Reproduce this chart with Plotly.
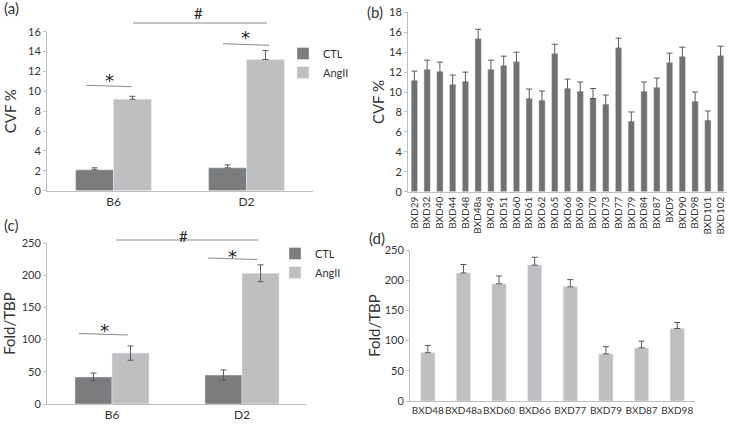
import plotly.graph_objects as go

# ---------------- data ----------------
groups = ["B6", "D2"]
cvf_ctl = [2.1, 2.3]
cvf_ctl_err = [0.2, 0.3]
cvf_ang = [9.2, 13.2]
cvf_ang_err = [0.3, 0.9]

strains_b = ["BXD29", "BXD32", "BXD40", "BXD44", "BXD48", "BXD48a", "BXD49", "BXD51",
             "BXD60", "BXD61", "BXD62", "BXD65", "BXD66", "BXD69", "BXD70", "BXD73",
             "BXD77", "BXD79", "BXD84", "BXD87", "BXD9", "BXD90", "BXD98", "BXD101", "BXD102"]
cvf_b = [11.1, 12.2, 12.0, 10.7, 11.0, 15.3, 12.2, 12.6, 13.0, 9.3, 9.1, 13.8, 10.3, 10.0,
         9.35, 8.7, 14.4, 7.0, 10.0, 10.4, 12.9, 13.5, 9.0, 7.1, 13.6]
cvf_b_err = [1.0] * 25

fold_ctl = [42, 45]
fold_ctl_err = [6, 8]
fold_ang = [79, 203]
fold_ang_err = [11, 13]

strains_d = ["BXD48", "BXD48a", "BXD60", "BXD66", "BXD77", "BXD79", "BXD87", "BXD98"]
fold_d = [80, 212, 194, 225, 189, 78, 88, 120]
fold_d_err = [12, 14, 13, 13, 12, 12, 11, 10]

W, H = 729, 426
FONT = "Lato, 'Open Sans', sans-serif"
TXT = "#333333"
DARK = "#7b7c7e"
LIGHT = "#bebfc1"
BDARK = "#717171"
AX = "#bfbfbf"
ERR = "#595959"

def px(x):
    return x / W

def py(y):
    return 1 - y / H

fig = go.Figure()

# (a)
fig.add_trace(go.Bar(x=groups, y=cvf_ctl, name="CTL", marker_color=DARK,
                     error_y=dict(type="data", array=cvf_ctl_err, arrayminus=[0, 0], symmetric=False,
                                  color=ERR, thickness=1, width=3),
                     xaxis="x", yaxis="y", legend="legend"))
fig.add_trace(go.Bar(x=groups, y=cvf_ang, name="AngII", marker_color=LIGHT,
                     error_y=dict(type="data", array=cvf_ang_err, arrayminus=[0, 0], symmetric=False,
                                  color=ERR, thickness=1, width=3),
                     xaxis="x", yaxis="y", legend="legend"))
# (b)
fig.add_trace(go.Bar(x=strains_b, y=cvf_b, marker_color=BDARK, width=0.5, showlegend=False,
                     error_y=dict(type="data", array=cvf_b_err, arrayminus=[0] * 25, symmetric=False,
                                  color=ERR, thickness=1, width=3),
                     xaxis="x2", yaxis="y2"))
# (c)
fig.add_trace(go.Bar(x=groups, y=fold_ctl, name="CTL", marker_color=DARK,
                     error_y=dict(type="data", array=fold_ctl_err, color=ERR, thickness=1, width=3),
                     xaxis="x3", yaxis="y3", legend="legend2"))
fig.add_trace(go.Bar(x=groups, y=fold_ang, name="AngII", marker_color=LIGHT,
                     error_y=dict(type="data", array=fold_ang_err, color=ERR, thickness=1, width=3),
                     xaxis="x3", yaxis="y3", legend="legend2"))
# (d)
fig.add_trace(go.Bar(x=strains_d, y=fold_d, marker_color=LIGHT, width=0.4, showlegend=False,
                     error_y=dict(type="data", array=fold_d_err, arrayminus=[0] * 8, symmetric=False,
                                  color=ERR, thickness=1, width=3),
                     xaxis="x4", yaxis="y4"))

xcommon = dict(showline=True, linecolor=AX, linewidth=1, ticks="", showgrid=False,
               zeroline=False, automargin=False)
ycommon = dict(showline=True, linecolor=AX, linewidth=1, ticks="outside", ticklen=3,
               tickcolor=AX, showgrid=False, zeroline=False, automargin=False,
               tickfont=dict(family=FONT, size=11, color=TXT))

fig.update_layout(
    width=W, height=H, margin=dict(l=0, r=0, t=0, b=0, autoexpand=False),
    paper_bgcolor="white", plot_bgcolor="white",
    barmode="group", bargap=0.43, bargroupgap=0,
    font=dict(family=FONT, color=TXT),
    xaxis=dict(domain=[px(47), px(313)], anchor="y",
               tickfont=dict(family=FONT, size=12, color=TXT), **xcommon),
    yaxis=dict(domain=[py(190.7), py(31.7)], anchor="x", range=[0, 16], dtick=2,
               title=dict(text="CVF %", font=dict(family=FONT, size=15, color=TXT), standoff=7),
               **ycommon),
    xaxis2=dict(domain=[px(408), px(727)], anchor="y2", tickangle=-90,
                tickfont=dict(family=FONT, size=10, color=TXT), **xcommon),
    yaxis2=dict(domain=[py(191.7), py(12.3)], anchor="x2", range=[0, 18], dtick=2,
                title=dict(text="CVF %", font=dict(family=FONT, size=15, color=TXT), standoff=0),
                **ycommon),
    xaxis3=dict(domain=[px(47), px(307)], anchor="y3",
                tickfont=dict(family=FONT, size=12, color=TXT), **xcommon),
    yaxis3=dict(domain=[py(404), py(243)], anchor="x3", range=[0, 250], dtick=50,
                title=dict(text="Fold/TBP", font=dict(family=FONT, size=15, color=TXT), standoff=6),
                **ycommon),
    xaxis4=dict(domain=[px(410), px(695)], anchor="y4", tickangle=0,
                tickfont=dict(family=FONT, size=10, color=TXT), **xcommon),
    yaxis4=dict(domain=[py(401), py(250)], anchor="x4", range=[0, 250], dtick=50,
                title=dict(text="Fold/TBP", font=dict(family=FONT, size=15, color=TXT), standoff=0),
                **ycommon),
    legend=dict(x=px(283), y=py(39), xanchor="left", yanchor="top",
                font=dict(family=FONT, size=11, color=TXT), bgcolor="rgba(0,0,0,0)",
                itemwidth=30, tracegroupgap=0),
    legend2=dict(x=px(275), y=py(239), xanchor="left", yanchor="top",
                 font=dict(family=FONT, size=11, color=TXT), bgcolor="rgba(0,0,0,0)",
                 itemwidth=30, tracegroupgap=0),
)

annots = []
for lab, x, y in [("(a)", 2, 8), ("(b)", 365, 12), ("(c)", 2, 225), ("(d)", 367, 238)]:
    annots.append(dict(text=lab, x=px(x), y=py(y), xref="paper", yref="paper",
                       xanchor="left", yanchor="middle", showarrow=False,
                       font=dict(family=FONT, size=15, color=TXT)))
for sym, x, y in [("#", 198, 13), ("#", 183, 236)]:
    annots.append(dict(text=sym, x=px(x), y=py(y), xref="paper", yref="paper",
                       xanchor="center", yanchor="middle", showarrow=False,
                       font=dict(family=FONT, size=15, color="#222222")))
for sym, x, y in [("*", 109, 80), ("*", 245, 37), ("*", 104, 330), ("*", 232, 256)]:
    annots.append(dict(text=sym, x=px(x), y=py(y), xref="paper", yref="paper",
                       xanchor="center", yanchor="middle", showarrow=False,
                       font=dict(family="DejaVu Sans", size=18, color="#222222")))
fig.update_layout(annotations=annots)

shapes = []
for x0, y0, x1, y1 in [(133, 23, 267, 23), (86, 85.3, 132, 86.7), (223, 43.7, 269, 45.3),
                       (116, 240, 258, 240), (79, 333.5, 128, 335), (208, 258, 257, 259.5)]:
    shapes.append(dict(type="line", xref="paper", yref="paper",
                       x0=px(x0), y0=py(y0), x1=px(x1), y1=py(y1),
                       line=dict(color="#8a8a8a", width=1)))
fig.update_layout(shapes=shapes)

fig.write_html("out.html", config={"displayModeBar": False},
               post_script="document.body.style.margin='0';document.body.style.padding='0';")
